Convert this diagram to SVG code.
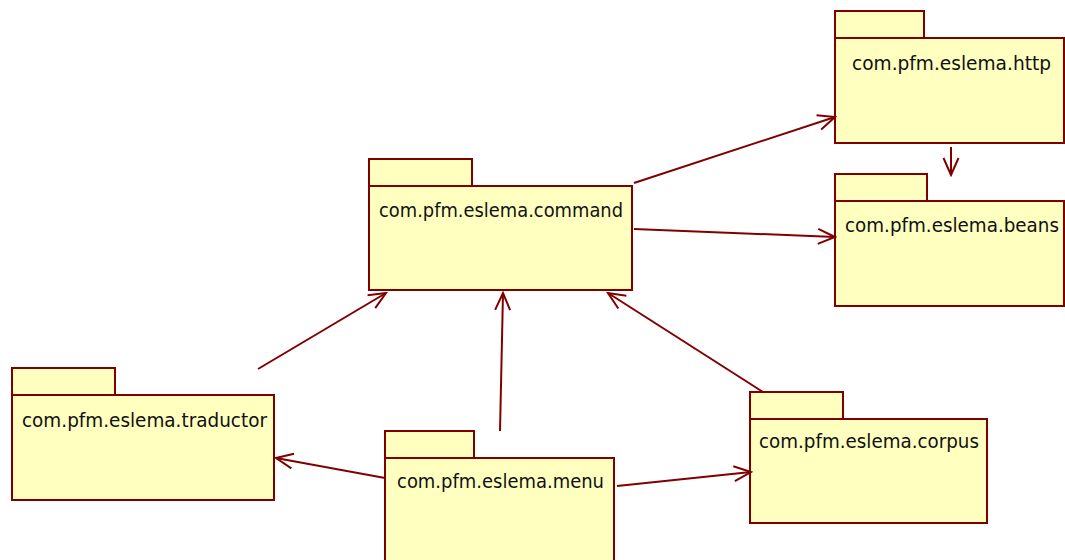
<svg xmlns="http://www.w3.org/2000/svg" width="1065" height="560" viewBox="0 0 1065 560">
<style>
.pk{fill:#ffffc0;stroke:#800000;stroke-width:2}
.lb{font-family:"DejaVu Sans","Liberation Sans",sans-serif;font-size:19px;fill:#111}
.cn line{stroke:#800000;stroke-width:2}
</style>
<defs>
<marker id="ah" viewBox="0 0 20 20" refX="18" refY="10" markerWidth="20" markerHeight="20" markerUnits="userSpaceOnUse" orient="auto">
<path d="M1,2.5 L18,10 L1,17.5" fill="none" stroke="#800000" stroke-width="2"/>
</marker>
</defs>
<rect width="1065" height="560" fill="#fff"/>
<g id="http">
<rect class="pk" x="835" y="11" width="89" height="27"/>
<rect class="pk" x="835" y="38" width="229" height="105"/>
<text class="lb" x="852" y="70" textLength="199" lengthAdjust="spacingAndGlyphs">com.pfm.eslema.http</text>
</g>
<g id="beans">
<rect class="pk" x="835" y="174" width="92" height="27"/>
<rect class="pk" x="835" y="201" width="229" height="105"/>
<text class="lb" x="845" y="232" textLength="214" lengthAdjust="spacingAndGlyphs">com.pfm.eslema.beans</text>
</g>
<g id="command">
<rect class="pk" x="369" y="159" width="103" height="27"/>
<rect class="pk" x="369" y="186" width="263" height="104"/>
<text class="lb" x="379" y="217" textLength="244" lengthAdjust="spacingAndGlyphs">com.pfm.eslema.command</text>
</g>
<g id="traductor">
<rect class="pk" x="12" y="368" width="103" height="27"/>
<rect class="pk" x="12" y="395" width="262" height="105"/>
<text class="lb" x="22" y="427" textLength="245" lengthAdjust="spacingAndGlyphs">com.pfm.eslema.traductor</text>
</g>
<g id="menu">
<rect class="pk" x="385" y="431" width="89" height="27"/>
<rect class="pk" x="385" y="458" width="229" height="110"/>
<text class="lb" x="397" y="488" textLength="207" lengthAdjust="spacingAndGlyphs">com.pfm.eslema.menu</text>
</g>
<g id="corpus">
<rect class="pk" x="750" y="392" width="93" height="27"/>
<rect class="pk" x="750" y="419" width="237" height="104"/>
<text class="lb" x="759" y="448" textLength="220" lengthAdjust="spacingAndGlyphs">com.pfm.eslema.corpus</text>
</g>
<g id="connectors" class="cn">
<line x1="634" y1="183" x2="835" y2="117" marker-end="url(#ah)"/>
<line x1="634" y1="229" x2="835" y2="237" marker-end="url(#ah)"/>
<line x1="951" y1="147" x2="951" y2="175" marker-end="url(#ah)"/>
<line x1="258" y1="369" x2="386" y2="293" marker-end="url(#ah)"/>
<line x1="500" y1="431" x2="503" y2="293" marker-end="url(#ah)"/>
<line x1="763" y1="392" x2="608" y2="293" marker-end="url(#ah)"/>
<line x1="385" y1="478" x2="276" y2="458" marker-end="url(#ah)"/>
<line x1="617" y1="486" x2="751" y2="472" marker-end="url(#ah)"/>
</g>
</svg>
